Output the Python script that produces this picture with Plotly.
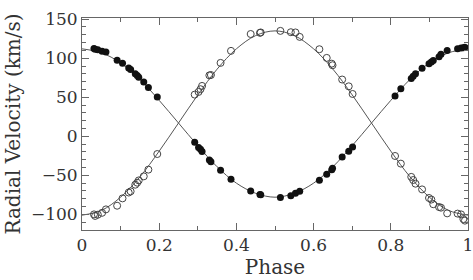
import plotly.graph_objects as go

# Observed phases (each spectrum gives both components)
phase = [0.031, 0.034, 0.041, 0.052, 0.062, 0.091, 0.105, 0.121, 0.126, 0.138,
         0.143, 0.147, 0.160, 0.172, 0.195, 0.292, 0.302, 0.307, 0.311, 0.330,
         0.334, 0.359, 0.386, 0.437, 0.461, 0.463, 0.514, 0.541, 0.553, 0.564,
         0.615, 0.634, 0.647, 0.649, 0.674, 0.691, 0.701, 0.811, 0.826, 0.853,
         0.858, 0.864, 0.881, 0.899, 0.905, 0.910, 0.925, 0.930, 0.946, 0.973,
         0.982, 0.988, 0.992]
# Primary star (filled circles), km/s
rv_primary = [112.4, 111.5, 110.7, 109.0, 108.0, 97.4, 93.6, 87.6, 85.5, 80.0,
              77.8, 75.6, 69.6, 62.4, 50.4, -7.7, -14.5, -16.5, -19.6, -30.5,
              -32.5, -43.6, -55.0, -70.0, -74.4, -74.8, -78.4, -76.0, -73.0, -70.5,
              -56.4, -48.7, -42.7, -41.0, -26.5, -19.2, -13.7, 51.7, 61.0, 74.0,
              77.0, 80.0, 87.0, 93.0, 95.0, 97.0, 102.0, 105.0, 110.0, 112.0,
              113.0, 113.5, 114.0]
# Secondary star (open circles), km/s
rv_secondary = [-100.0, -102.0, -100.4, -98.0, -93.6, -88.9, -79.5, -72.0, -70.5, -62.0,
                -59.4, -56.5, -51.3, -42.7, -22.7, 53.4, 56.8, 60.3, 64.5, 78.0,
                78.5, 94.0, 109.4, 131.0, 132.5, 133.0, 135.0, 133.3, 133.0, 127.3,
                111.5, 100.4, 93.0, 91.0, 72.7, 64.0, 54.2, -25.2, -35.0, -52.0,
                -56.0, -60.7, -68.0, -79.0, -81.0, -87.0, -90.6, -91.4, -98.7, -99.0,
                -100.0, -106.0, -108.0]

# Orbit solution curves
curve_phase = [0.0, 0.05, 0.1, 0.15, 0.2, 0.25, 0.3, 0.35, 0.4, 0.45, 0.5,
               0.55, 0.6, 0.65, 0.7, 0.75, 0.8, 0.85, 0.9, 0.95, 1.0]
curve_primary = [112, 107, 94, 73, 46, 17, -12, -39, -60, -73, -78,
                 -73, -60, -39, -12, 17, 46, 73, 94, 107, 112]
curve_secondary = [-101, -95, -78, -52, -19, 17, 53, 86, 112, 129, 135,
                   129, 112, 86, 53, 17, -19, -52, -78, -95, -101]

x_ticks = [0, 0.2, 0.4, 0.6, 0.8, 1]
x_ticklabels = ["0", "0.2", "0.4", "0.6", "0.8", "1"]
y_ticks = [-100, -50, 0, 50, 100, 150]

fig = go.Figure()
fig.add_trace(go.Scatter(x=curve_phase, y=curve_primary, mode="lines",
                         line=dict(color="#555555", width=1, shape="spline"),
                         showlegend=False, hoverinfo="skip"))
fig.add_trace(go.Scatter(x=curve_phase, y=curve_secondary, mode="lines",
                         line=dict(color="#555555", width=1, shape="spline"),
                         showlegend=False, hoverinfo="skip"))
fig.add_trace(go.Scatter(x=phase, y=rv_secondary, mode="markers",
                         marker=dict(symbol="circle-open", size=7,
                                     color="#444444", line=dict(width=1, color="#444444")),
                         showlegend=False))
fig.add_trace(go.Scatter(x=phase, y=rv_primary, mode="markers",
                         marker=dict(symbol="circle", size=7, color="#111111"),
                         showlegend=False))

axis_common = dict(
    showline=True, linecolor="#666666", linewidth=1, mirror="allticks",
    ticks="inside", tickcolor="#666666", tickwidth=1,
    showgrid=False, zeroline=False, automargin=False, ticklabeloverflow="allow",
    tickfont=dict(family="DejaVu Serif", size=17, color="#333333"),
)

fig.update_xaxes(range=[0, 1], tickvals=x_ticks, ticktext=x_ticklabels, ticklen=7,
                 minor=dict(dtick=0.1, ticks="inside", ticklen=4, tickcolor="#666666"),
                 title=dict(text="Phase", font=dict(family="DejaVu Serif", size=20, color="#333333"),
                            standoff=2),
                 **axis_common)
fig.update_yaxes(range=[-120, 151.5], tickvals=y_ticks, ticklen=7,
                 minor=dict(dtick=10, ticks="inside", ticklen=4, tickcolor="#666666"),
                 title=dict(text="Radial Velocity (km/s)",
                            font=dict(family="DejaVu Serif", size=20, color="#333333"),
                            standoff=4),
                 **axis_common)

fig.update_layout(width=473, height=280,
                  margin=dict(l=82, r=5, t=18, b=50),
                  plot_bgcolor="white", paper_bgcolor="white")

fig.write_html("out.html", config={"displayModeBar": False},
               post_script="document.body.style.margin='0';document.body.style.padding='0';")
